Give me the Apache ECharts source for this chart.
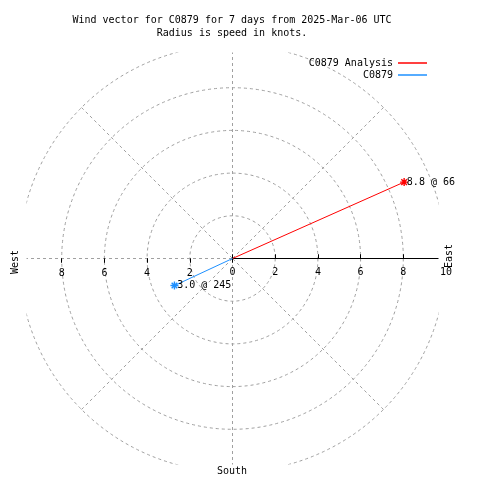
<!DOCTYPE html>
<html><head><meta charset="utf-8">
<script src="https://cdn.jsdelivr.net/npm/echarts@6/dist/echarts.min.js"></script>
<style>html,body{margin:0;padding:0;background:#fff}#c{width:480px;height:480px}</style>
</head><body><div id="c"></div>
<script>
// ---- data ----
const seriesNames = ['C0879 Analysis', 'C0879'];
const speeds = [8.8, 3.0];          // knots
const directions = [66, 245];       // degrees, compass
const seriesColors = ['#ff0000', '#1e90ff'];
const eastTickLabels = [0, 2, 4, 6, 8, 10];
const westTickLabels = [2, 4, 6, 8];
const titleLines = ['Wind vector for C0879 for 7 days from 2025-Mar-06 UTC', 'Radius is speed in knots.'];
const compassNames = { west: 'West', east: 'East', south: 'South' };

// ---- layout / style ----
const FONT = 'DejaVu Sans Mono';
const CX = 232.5, CY = 258.5, R = 213.5, HALF = 206;
const RMAX = 10, STEP = 2;
const GRID = '#a0a0a0';
const STAR = 'path://M0,4L8,4M4,0L4,8M1.2,1.2L6.8,6.8M1.2,6.8L6.8,1.2';
const txt = { fontFamily: FONT, fontSize: 10, color: '#000' };

const polars = [], angleAxes = [], radiusAxes = [];
function addPolar(startAngle, z, angleOpt, radiusOpt) {
  const idx = polars.length;
  polars.push({ center: [CX, CY], radius: R });
  angleAxes.push(Object.assign({ polarIndex: idx, type: 'value', startAngle: startAngle, clockwise: true,
    min: 0, max: 360, interval: 45, z: z, axisLine: { show: false }, axisTick: { show: false },
    axisLabel: { show: false }, splitLine: { show: false } }, angleOpt || {}));
  radiusAxes.push(Object.assign({ polarIndex: idx, type: 'value', min: 0, max: RMAX, interval: STEP, z: z,
    axisLine: { show: false }, axisTick: { show: false }, axisLabel: { show: false },
    splitLine: { show: false } }, radiusOpt || {}));
}
const dashed = { color: GRID, type: [3, 3], width: 1 };
// 0: compass polar with grid
addPolar(90, 0, { splitLine: { show: true, lineStyle: dashed } }, { splitLine: { show: true, lineStyle: dashed } });
// 1: east axis line + ticks one side
addPolar(0, 1, {}, { axisLine: { show: true, lineStyle: { color: '#000', width: 1 } },
  axisTick: { show: true, length: 4, lineStyle: { color: '#000' } } });
// 2: east ticks other side
addPolar(0, 1, {}, { axisTick: { show: true, inside: true, length: 4, lineStyle: { color: '#000' } } });
// 3: east labels (pushed to the lower side)
addPolar(0, 3, {}, { axisLabel: Object.assign({ show: true, margin: -19,
  formatter: v => eastTickLabels.includes(v) ? String(v) : '' }, txt) });
// 4: west ticks + labels
addPolar(180, 0, {}, { axisTick: { show: true, length: 4, lineStyle: { color: '#000' } },
  axisLabel: Object.assign({ show: true, margin: 10,
  formatter: v => westTickLabels.includes(v) ? String(v) : '' }, txt) });
// 5: west ticks other side
addPolar(180, 0, {}, { axisTick: { show: true, inside: true, length: 4, lineStyle: { color: '#000' } } });

const series = seriesNames.map((name, i) => {
  const c = seriesColors[i];
  return {
    name: name, type: 'line', coordinateSystem: 'polar', polarIndex: 0, z: 4,
    color: c, lineStyle: { color: c, width: 1 },
    symbol: STAR, symbolSize: 8,
    itemStyle: { color: c, borderColor: c, borderWidth: 1.4 },
    emphasis: { disabled: true },
    label: { show: false },
    data: [
      { value: [0, directions[i]], symbol: 'none' },
      { value: [speeds[i], directions[i]],
        label: Object.assign({ show: true, position: 'right', distance: -2,
          formatter: speeds[i].toFixed(1) + ' @ ' + directions[i] }, txt) }
    ]
  };
});

const L = CX - HALF, Rt = CX + HALF, T = CY - HALF, B = CY + HALF;
const cover = (x, y, w, h) => ({ type: 'rect', z: 2, silent: true, shape: { x, y, width: w, height: h }, style: { fill: '#fff' } });
const label = (s, x, y, rot) => ({ type: 'text', z: 5, silent: true, x, y, rotation: rot,
  style: { text: s, x: 0, y: 0, textAlign: 'center', textVerticalAlign: 'middle', font: '10px "' + FONT + '"', fill: '#000' } });

const chart = echarts.init(document.getElementById('c'), null, { renderer: 'canvas' });
chart.setOption({
  animation: false,
  backgroundColor: '#fff',
  title: { text: titleLines.join('\n'), left: 232, top: 14, textAlign: 'center', padding: 0,
    textStyle: Object.assign({ fontWeight: 'normal', lineHeight: 13 }, txt) },
  legend: { data: seriesNames.map((n, i) => ({ name: n, icon: 'rect',
      itemStyle: { color: seriesColors[i], borderWidth: 0 } })),
    orient: 'vertical', align: 'right',
    right: 53, top: 57, itemGap: 0, itemWidth: 29, itemHeight: 1.5, padding: 0,
    textStyle: Object.assign({ lineHeight: 12 }, txt) },
  polar: polars, angleAxis: angleAxes, radiusAxis: radiusAxes,
  series: series,
  graphic: { elements: [
    cover(0, 0, 480, T), cover(0, B, 480, 480 - B), cover(0, 0, L, 480), cover(Rt, 0, 480 - Rt, 480),
    label(compassNames.west, 15, 262, Math.PI / 2),
    label(compassNames.east, 449, 256, Math.PI / 2),
    label(compassNames.south, 232, 471, 0)
  ] }
});
</script></body></html>
